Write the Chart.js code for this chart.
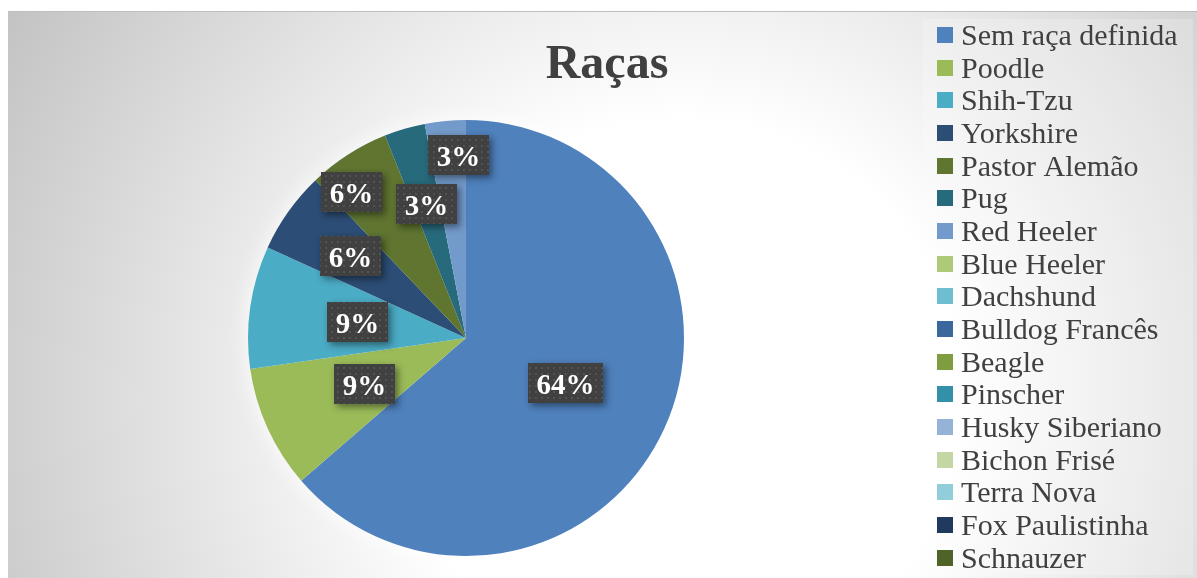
<!DOCTYPE html>
<html>
<head>
<meta charset="utf-8">
<title>Raças</title>
<script src="https://cdn.jsdelivr.net/npm/chart.js@4.4.1/dist/chart.umd.min.js"></script>
<style>
  html, body { margin: 0; padding: 0; background: #fff; overflow: hidden; }
  #wrap { position: relative; width: 1197px; height: 578px; }
</style>
</head>
<body>
<div id="wrap"><canvas id="chart" width="1197" height="578"></canvas></div>
<script>
// Breeds (categories) and number of dogs per breed
const breeds = [
  'Sem raça definida', 'Poodle', 'Shih-Tzu', 'Yorkshire', 'Pastor Alemão', 'Pug',
  'Red Heeler', 'Blue Heeler', 'Dachshund', 'Bulldog Francês', 'Beagle', 'Pinscher',
  'Husky Siberiano', 'Bichon Frisé', 'Terra Nova', 'Fox Paulistinha', 'Schnauzer'
];
const counts = [21, 3, 3, 2, 2, 1, 1, 0, 0, 0, 0, 0, 0, 0, 0, 0, 0];
const chartTitle = 'Raças';

const sliceColors = [
  '#4f81bd', '#9bbb59', '#4bacc6', '#2c4d75', '#5f7530', '#276a7c',
  '#729aca', '#afc97a', '#6fbdd1', '#3a679c', '#7f9c40', '#3490a9',
  '#95b3d7', '#c3d6a4', '#92cddc', '#1f3a5c', '#4f6228'
];

const SERIF = '"Liberation Serif", "DejaVu Serif", serif';
const total = counts.reduce((a, b) => a + b, 0);
const pctText = v => Math.round(v / total * 100) + '%';

// page frame + radial background + legend panel
const backgroundPlugin = {
  id: 'frameBackground',
  beforeDraw(chart) {
    const ctx = chart.ctx;
    ctx.save();
    ctx.fillStyle = '#ffffff';
    ctx.fillRect(0, 0, chart.width, chart.height);
    const g = ctx.createRadialGradient(680, 400, 0, 680, 400, 800);
    g.addColorStop(0, '#ffffff');
    g.addColorStop(0.35, '#ffffff');
    g.addColorStop(1, '#c0c0c0');
    ctx.fillStyle = g;
    ctx.fillRect(8, 11, chart.width - 8, chart.height - 11);
    ctx.strokeStyle = '#bdbdbd';
    ctx.lineWidth = 1;
    ctx.beginPath();
    ctx.moveTo(8, 11.5);
    ctx.lineTo(chart.width, 11.5);
    ctx.stroke();
    // legend panel
    ctx.fillStyle = 'rgba(255,255,255,0.22)';
    ctx.fillRect(923, 19, 270, 556);
    ctx.restore();
  }
};

// soft light halo behind the pie
const haloPlugin = {
  id: 'pieHalo',
  beforeDatasetsDraw(chart) {
    const arc = chart.getDatasetMeta(0).data[0];
    if (!arc) return;
    const { x, y, outerRadius } = arc.getProps(['x', 'y', 'outerRadius'], true);
    const ctx = chart.ctx;
    ctx.save();
    ctx.shadowColor = 'rgba(255,255,255,0.95)';
    ctx.shadowBlur = 22;
    ctx.fillStyle = '#ffffff';
    ctx.beginPath();
    ctx.arc(x, y, outerRadius - 1, 0, Math.PI * 2);
    ctx.fill();
    ctx.restore();
  }
};

// dark percentage callouts
function makeDotPattern(ctx) {
  const p = document.createElement('canvas');
  p.width = 6; p.height = 6;
  const pc = p.getContext('2d');
  pc.fillStyle = '#404040';
  pc.fillRect(0, 0, 6, 6);
  pc.fillStyle = 'rgba(255,255,255,0.10)';
  pc.fillRect(1, 1, 2, 2);
  pc.fillStyle = 'rgba(255,255,255,0.05)';
  pc.fillRect(4, 4, 1, 1);
  return ctx.createPattern(p, 'repeat');
}

const calloutPlugin = {
  id: 'percentCallouts',
  afterDatasetsDraw(chart, args, opts) {
    const ctx = chart.ctx;
    const meta = chart.getDatasetMeta(0);
    const values = chart.data.datasets[0].data;
    const pattern = makeDotPattern(ctx);
    ctx.save();
    ctx.font = 'bold 29px ' + SERIF;
    meta.data.forEach((arc, i) => {
      if (!values[i]) return;
      const { x, y, startAngle, endAngle, outerRadius } =
        arc.getProps(['x', 'y', 'startAngle', 'endAngle', 'outerRadius'], true);
      const shift = (opts.angleShifts[i] || 0) * Math.PI / 180;
      const mid = (startAngle + endAngle) / 2 + shift;
      const f = opts.radiusFactors[i] ?? 0.6;
      const cx = x + Math.cos(mid) * outerRadius * f;
      const cy = y + Math.sin(mid) * outerRadius * f;
      const text = pctText(values[i]);
      const tw = ctx.measureText(text).width;
      const w = Math.round(tw + 17), h = 40;
      const bx = Math.round(cx - w / 2), by = Math.round(cy - h / 2);
      ctx.save();
      ctx.shadowColor = 'rgba(0,0,0,0.45)';
      ctx.shadowBlur = 7;
      ctx.shadowOffsetX = 3;
      ctx.shadowOffsetY = 3;
      ctx.fillStyle = '#404040';
      ctx.fillRect(bx, by, w, h);
      ctx.restore();
      ctx.fillStyle = pattern;
      ctx.fillRect(bx, by, w, h);
      ctx.fillStyle = '#ffffff';
      ctx.textAlign = 'center';
      ctx.textBaseline = 'alphabetic';
      ctx.fillText(text, bx + w / 2, by + h / 2 + 11);
    });
    ctx.restore();
  }
};

// title and vertical legend
const textPlugin = {
  id: 'titleLegend',
  afterDraw(chart) {
    const ctx = chart.ctx;
    ctx.save();
    ctx.fillStyle = '#404040';
    ctx.font = 'bold 48px ' + SERIF;
    ctx.textAlign = 'center';
    ctx.textBaseline = 'alphabetic';
    ctx.fillText(chartTitle, 607, 78);

    const colors = chart.data.datasets[0].backgroundColor;
    ctx.font = '30px ' + SERIF;
    ctx.textAlign = 'left';
    chart.data.labels.forEach((label, i) => {
      const rowY = 35 + i * 32.66;
      ctx.fillStyle = colors[i];
      ctx.fillRect(937, Math.round(rowY - 8), 16, 16);
      ctx.fillStyle = '#404040';
      ctx.fillText(label, 961, rowY + 10);
    });
    ctx.restore();
  }
};

new Chart(document.getElementById('chart'), {
  type: 'pie',
  data: {
    labels: breeds,
    datasets: [{
      data: counts,
      backgroundColor: sliceColors,
      borderWidth: 0
    }]
  },
  options: {
    responsive: false,
    devicePixelRatio: 1,
    animation: false,
    layout: { padding: { left: 8, right: 273, top: 120, bottom: 22 } },
    plugins: {
      legend: { display: false },
      title: { display: false },
      tooltip: { enabled: false },
      percentCallouts: {
        radiusFactors: [0.5, 0.51, 0.505, 0.65, 0.85, 0.64, 0.84],
        angleShifts: [0, 0, 0, 0, -5.5, 0, 3.2]
      }
    }
  },
  plugins: [backgroundPlugin, haloPlugin, calloutPlugin, textPlugin]
});
</script>
</body>
</html>
